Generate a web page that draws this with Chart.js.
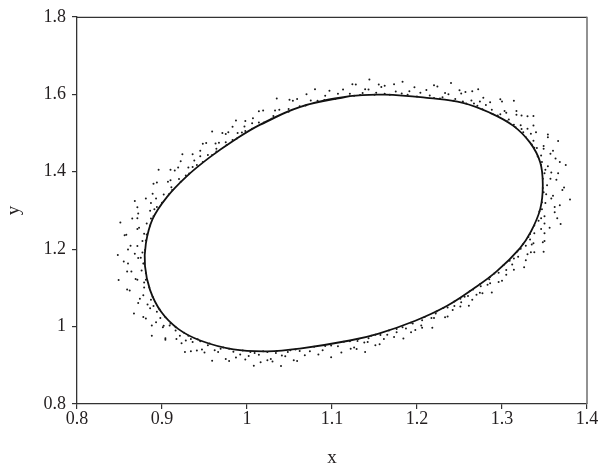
<!DOCTYPE html>
<html><head><meta charset="utf-8">
<script src="https://cdn.jsdelivr.net/npm/chart.js@4"></script>
<style>html,body{margin:0;padding:0;background:#fff}</style>
</head><body>
<canvas id="c" width="600" height="472"></canvas>
<script>
const xTicks = [0.8, 0.9, 1, 1.1, 1.2, 1.3, 1.4];
const xTickLabels = ['0.8', '0.9', '1', '1.1', '1.2', '1.3', '1.4'];
const yTicks = [0.8, 1, 1.2, 1.4, 1.6, 1.8];
const yTickLabels = ['0.8', '1', '1.2', '1.4', '1.6', '1.8'];
const xTitle = 'x';
const yTitle = 'y';

const curveX = [1.062,1.121,1.162,1.215,1.254,1.286,1.313,1.333,1.345,1.348,1.345,1.334,1.321,1.294,1.266,1.235,1.198,1.155,1.121,1.062,1.024,0.984,0.945,0.919,0.899,0.886,0.880,0.881,0.889,0.906,0.929,0.956,0.984,1.015];
const curveY = [1.567,1.595,1.599,1.590,1.578,1.552,1.519,1.475,1.424,1.365,1.304,1.245,1.202,1.143,1.097,1.053,1.015,0.982,0.964,0.943,0.936,0.941,0.964,0.994,1.038,1.094,1.156,1.214,1.278,1.335,1.388,1.437,1.480,1.521];

const dotX = [
1.062,1.059,1.075,1.080,1.091,1.097,1.107,
1.121,1.124,1.133,1.139,1.144,1.152,1.155,
1.162,1.162,1.175,1.183,1.189,1.197,1.204,
1.215,1.220,1.227,1.233,1.240,1.245,1.250,
1.254,1.257,1.264,1.272,1.271,1.278,1.281,
1.288,1.298,1.295,1.303,1.314,1.308,1.317,
1.314,1.323,1.322,1.337,1.325,1.337,1.334,
1.337,1.354,1.338,1.349,1.366,1.346,1.360,
1.347,1.363,1.354,1.375,1.350,1.366,1.357,
1.353,1.373,1.349,1.360,1.380,1.351,1.368,
1.347,1.362,1.350,1.369,1.343,1.356,1.346,
1.338,1.350,1.331,1.337,1.349,1.328,1.338,
1.322,1.330,1.319,1.326,1.309,1.314,1.305,
1.296,1.300,1.286,1.286,1.288,1.275,1.277,
1.266,1.270,1.260,1.261,1.251,1.251,1.244,
1.236,1.236,1.223,1.220,1.218,1.206,1.206,
1.195,1.198,1.187,1.184,1.176,1.173,1.165,
1.157,1.156,1.146,1.142,1.139,1.130,1.129,
1.121,1.122,1.107,1.099,1.092,1.084,1.074,
1.062,1.059,1.051,1.045,1.040,1.034,1.030,
1.024,1.024,1.014,1.008,1.004,0.998,0.992,
0.984,0.979,0.972,0.966,0.959,0.954,0.950,
0.945,0.941,0.936,0.927,0.931,0.923,0.921,
0.916,0.904,0.910,0.901,0.888,0.898,0.888,
0.894,0.881,0.886,0.867,0.887,0.872,0.878,
0.879,0.859,0.881,0.869,0.849,0.876,0.859,
0.878,0.860,0.872,0.848,0.877,0.860,0.871,
0.877,0.856,0.882,0.871,0.851,0.882,0.865,
0.887,0.872,0.886,0.868,0.894,0.881,0.893,
0.902,0.890,0.912,0.907,0.896,0.920,0.910,
0.928,0.919,0.931,0.924,0.941,0.936,0.945,
0.954,0.948,0.964,0.963,0.959,0.975,0.971,
0.983,0.978,0.989,0.987,0.998,0.998,1.006,
1.014,1.014,1.029,1.033,1.035,1.049,1.050,
1.069,1.070,1.083,1.092,1.104,1.113,
1.126,1.128,1.136,1.143,1.150,1.158,
1.168,1.173,1.182,1.191,1.200,1.211,
1.220,1.224,1.230,1.237,1.243,1.252,
1.258,1.265,1.267,1.274,1.277,1.286,
1.289,1.300,1.298,1.305,1.306,1.317,
1.316,1.330,1.323,1.330,1.328,1.340,
1.335,1.354,1.341,1.349,1.342,1.357,
1.346,1.368,1.351,1.358,1.348,1.364,
1.348,1.371,1.352,1.358,1.347,1.362,
1.344,1.365,1.346,1.350,1.338,1.350,
1.333,1.348,1.333,1.335,1.325,1.334,
1.318,1.328,1.314,1.312,1.302,1.305,
1.291,1.296,1.285,1.283,1.274,1.274,
1.262,1.265,1.256,1.252,1.244,1.242,
1.231,1.233,1.222,1.217,1.209,1.205,
1.193,1.193,1.183,1.176,1.167,1.161,
1.151,1.151,1.143,1.138,1.131,1.126,
1.114,1.111,1.099,1.089,1.079,1.068,
1.057,1.055,1.048,1.041,1.035,1.028,
1.019,1.016,1.009,1.002,0.995,0.987,
0.979,0.975,0.969,0.962,0.956,0.947,
0.942,0.934,0.934,0.928,0.926,0.917,
0.916,0.904,0.909,0.902,0.904,0.893,
0.897,0.878,0.890,0.883,0.889,0.874,
0.885,0.862,0.879,0.871,0.881,0.864,
0.879,0.855,0.875,0.868,0.880,0.863,
0.881,0.858,0.879,0.873,0.886,0.871,
0.890,0.871,0.891,0.887,0.900,0.889,
0.908,0.894,0.911,0.910,0.922,0.915,
0.932,0.922,0.936,0.938,0.948,0.945,
0.959,0.952,0.964,0.967,0.976,0.975,
0.988,0.983,0.994,0.997,1.006,1.007,
1.020,1.019,1.031,1.038,1.049,1.054];
const dotY = [
1.569,1.588,1.584,1.613,1.585,1.609,1.601,
1.601,1.626,1.598,1.613,1.638,1.604,1.625,
1.601,1.622,1.607,1.632,1.599,1.618,1.604,
1.597,1.623,1.589,1.603,1.629,1.588,1.610,
1.581,1.606,1.584,1.613,1.570,1.591,1.572,
1.560,1.587,1.545,1.557,1.583,1.535,1.557,
1.521,1.545,1.520,1.544,1.502,1.519,1.498,
1.480,1.496,1.462,1.466,1.479,1.442,1.454,
1.425,1.434,1.414,1.417,1.396,1.396,1.382,
1.365,1.359,1.347,1.338,1.328,1.319,1.313,
1.303,1.295,1.285,1.265,1.273,1.255,1.252,
1.241,1.221,1.231,1.215,1.193,1.209,1.192,
1.201,1.187,1.180,1.153,1.170,1.147,1.146,
1.139,1.118,1.128,1.112,1.088,1.104,1.086,
1.096,1.082,1.079,1.054,1.072,1.052,1.053,
1.049,1.026,1.039,1.022,0.997,1.016,0.997,
1.008,0.991,0.995,0.969,0.994,0.973,0.979,
0.978,0.954,0.976,0.960,0.934,0.963,0.942,
0.962,0.943,0.949,0.921,0.950,0.928,0.936,
0.937,0.911,0.939,0.923,0.898,0.932,0.910,
0.934,0.913,0.927,0.899,0.934,0.915,0.928,
0.935,0.911,0.946,0.934,0.912,0.952,0.933,
0.962,0.938,0.960,0.934,0.976,0.957,0.976,
0.990,0.966,1.008,0.998,0.976,1.022,1.003,
1.038,1.021,1.047,1.034,1.069,1.061,1.081,
1.101,1.096,1.121,1.123,1.120,1.145,1.142,
1.163,1.163,1.177,1.185,1.191,1.199,1.208,
1.221,1.236,1.238,1.252,1.269,1.266,1.279,
1.279,1.292,1.299,1.324,1.309,1.331,1.331,
1.341,1.369,1.353,1.374,1.405,1.381,1.405,
1.390,1.411,1.411,1.445,1.417,1.445,1.440,
1.443,1.472,1.452,1.473,1.504,1.476,1.500,
1.482,1.502,1.500,1.532,1.505,1.531,1.525,
1.527,1.556,1.537,1.558,1.589,1.562,1.586,
1.571,1.600,1.583,1.596,1.588,1.612,
1.596,1.625,1.603,1.612,1.599,1.619,
1.599,1.626,1.602,1.608,1.594,1.611,
1.590,1.620,1.592,1.600,1.583,1.602,
1.576,1.608,1.576,1.581,1.561,1.579,
1.549,1.581,1.548,1.552,1.530,1.547,
1.515,1.543,1.510,1.511,1.489,1.502,
1.470,1.489,1.461,1.459,1.439,1.446,
1.417,1.425,1.405,1.398,1.382,1.379,
1.358,1.353,1.342,1.331,1.321,1.309,
1.297,1.280,1.280,1.266,1.261,1.241,
1.239,1.218,1.225,1.212,1.213,1.192,
1.194,1.171,1.176,1.160,1.159,1.134,
1.137,1.115,1.122,1.108,1.109,1.087,
1.091,1.069,1.077,1.063,1.065,1.043,
1.048,1.024,1.034,1.022,1.025,1.003,
1.010,0.985,0.998,0.985,0.990,0.968,
0.979,0.952,0.970,0.959,0.968,0.946,
0.961,0.933,0.951,0.939,0.948,0.926,
0.941,0.913,0.934,0.925,0.937,0.916,
0.936,0.908,0.932,0.924,0.938,0.920,
0.943,0.916,0.943,0.939,0.956,0.941,
0.967,0.936,0.968,0.964,0.984,0.968,
0.998,0.970,1.003,1.002,1.024,1.011,
1.044,1.025,1.053,1.057,1.077,1.072,
1.101,1.093,1.114,1.121,1.138,1.142,
1.163,1.168,1.178,1.188,1.198,1.209,
1.222,1.237,1.240,1.255,1.261,1.280,
1.285,1.308,1.303,1.319,1.320,1.343,
1.342,1.372,1.360,1.378,1.374,1.403,
1.395,1.427,1.412,1.429,1.425,1.454,
1.443,1.474,1.459,1.475,1.469,1.497,
1.486,1.516,1.501,1.517,1.511,1.538,
1.527,1.558,1.544,1.560,1.555,1.583];

const curvePts = curveX.map((x, i) => ({x, y: curveY[i]}));
const n = curvePts.length;
const loopPts = [curvePts[n - 1], ...curvePts, curvePts[0], curvePts[1]];
const dotPts = dotX.map((x, i) => ({x, y: dotY[i]}));

const FONT = "'Liberation Serif', 'Times New Roman', serif";
const INK = '#231f20';

const framePlugin = {
  id: 'frame',
  afterDraw(chart) {
    const {ctx, chartArea: a} = chart;
    ctx.save();
    ctx.lineWidth = 1.3;
    ctx.strokeStyle = '#333';
    ctx.beginPath();
    ctx.moveTo(a.left, a.top + 0.5);
    ctx.lineTo(a.right, a.top + 0.5);
    ctx.stroke();
    ctx.lineWidth = 1.6;
    ctx.strokeStyle = '#777';
    ctx.beginPath();
    ctx.moveTo(a.right, a.top);
    ctx.lineTo(a.right, a.bottom);
    ctx.stroke();
    ctx.restore();
  }
};

new Chart(document.getElementById('c'), {
  type: 'scatter',
  data: {
    datasets: [
      {
        data: dotPts,
        pointRadius: 1.0,
        pointBackgroundColor: '#1a1a1a',
        pointBorderWidth: 0,
        showLine: false
      },
      {
        data: loopPts,
        showLine: true,
        pointRadius: 0,
        borderColor: '#111',
        borderWidth: 1.8,
        tension: 0.4,
        fill: false
      }
    ]
  },
  options: {
    responsive: false,
    animation: false,
    devicePixelRatio: 1,
    layout: {padding: {top: 13, right: 13, left: 0, bottom: 0}},
    plugins: {legend: {display: false}, tooltip: {enabled: false}},
    scales: {
      x: {
        type: 'linear', position: 'bottom', min: 0.8, max: 1.4,
        afterBuildTicks: s => { s.ticks = xTicks.map(v => ({value: v})); },
        afterFit: s => { s.height = 68; },
        ticks: {
          callback: (v, i) => xTickLabels[i],
          font: {family: FONT, size: 18}, color: INK, padding: -1, maxRotation: 0
        },
        grid: {drawOnChartArea: false, drawTicks: true, tickLength: 5, color: '#333', lineWidth: 1.2},
        border: {display: true, color: '#333', width: 1.3},
        title: {display: true, text: xTitle, font: {family: FONT, size: 19}, color: INK, padding: {top: 0, bottom: 3}}
      },
      y: {
        type: 'linear', position: 'left', min: 0.8, max: 1.8,
        afterBuildTicks: s => { s.ticks = yTicks.map(v => ({value: v})); },
        afterFit: s => { s.width = 77; },
        ticks: {
          callback: (v, i) => yTickLabels[i],
          font: {family: FONT, size: 18}, color: INK, padding: 6
        },
        grid: {drawOnChartArea: false, drawTicks: true, tickLength: 5, color: '#333', lineWidth: 1.2},
        border: {display: true, color: '#333', width: 1.3},
        title: {display: true, text: yTitle, font: {family: FONT, size: 19}, color: INK, padding: {top: 3, bottom: 0}}
      }
    }
  },
  plugins: [framePlugin]
});
</script>
</body></html>
